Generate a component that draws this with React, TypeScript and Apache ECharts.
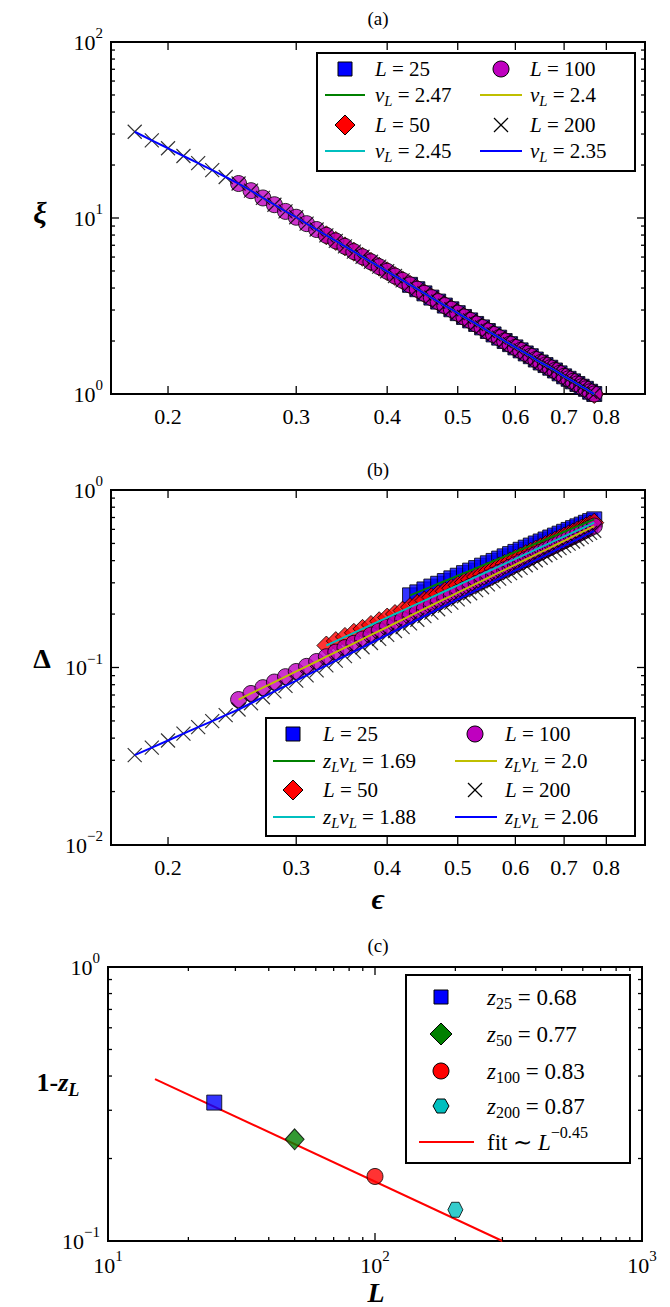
import React, { useEffect, useRef } from 'react';
import * as echarts from 'echarts';

const FONT = 'Liberation Serif';

// panel (a)/(b) grid of epsilon
const EPS = [0.18, 0.19, 0.2, 0.21, 0.22, 0.23, 0.24, 0.25, 0.26, 0.27, 0.28, 0.29, 0.3, 0.31, 0.32, 0.33, 0.34, 0.35, 0.36, 0.37, 0.38, 0.39, 0.4, 0.41, 0.42, 0.43, 0.44, 0.45, 0.46, 0.47, 0.48, 0.49, 0.5, 0.51, 0.52, 0.53, 0.54, 0.55, 0.56, 0.57, 0.58, 0.59, 0.6, 0.61, 0.62, 0.63, 0.64, 0.65, 0.66, 0.67, 0.68, 0.69, 0.7, 0.71, 0.72, 0.73, 0.74, 0.75, 0.76, 0.77];

// (a) correlation length xi
const XI = [30.9, 27.6, 24.9, 22.5, 20.5, 18.7, 17.1, 15.7, 14.3, 13.0, 11.9, 10.9, 10.1, 9.29, 8.6, 7.97, 7.41, 6.9, 6.44, 6.02, 5.64, 5.29, 4.98, 4.68, 4.42, 4.17, 3.94, 3.73, 3.53, 3.35, 3.18, 3.03, 2.88, 2.74, 2.62, 2.5, 2.39, 2.28, 2.18, 2.09, 2.0, 1.92, 1.84, 1.77, 1.7, 1.64, 1.57, 1.51, 1.46, 1.41, 1.36, 1.31, 1.26, 1.22, 1.18, 1.14, 1.1, 1.07, 1.03, 1.0];

// (b) gap Delta, each series starts at its own epsilon index
const DELTA_200 = [0.0321, 0.0354, 0.0388, 0.0424, 0.0461, 0.0499, 0.0539, 0.058, 0.0629, 0.068, 0.0733, 0.0788, 0.0844, 0.0903, 0.0964, 0.1027, 0.1093, 0.1159, 0.1229, 0.13, 0.1374, 0.1449, 0.1528, 0.1606, 0.1688, 0.1773, 0.1858, 0.1946, 0.2036, 0.213, 0.2224, 0.232, 0.2418, 0.2519, 0.2621, 0.2726, 0.2833, 0.2942, 0.3054, 0.3167, 0.3282, 0.34, 0.3521, 0.3642, 0.3767, 0.3893, 0.4022, 0.4154, 0.4287, 0.4422, 0.4561, 0.4701, 0.4843, 0.4988, 0.5129, 0.5278, 0.543, 0.5584, 0.5734, 0.5891];
const DELTA_100 = [0.066, 0.0714, 0.077, 0.0828, 0.0888, 0.095, 0.1015, 0.1081, 0.115, 0.1221, 0.1294, 0.1369, 0.1446, 0.1525, 0.1606, 0.169, 0.1775, 0.1863, 0.1953, 0.2044, 0.2138, 0.2235, 0.2333, 0.2433, 0.2535, 0.264, 0.2747, 0.2855, 0.2966, 0.3079, 0.3194, 0.3312, 0.3431, 0.3552, 0.3676, 0.3802, 0.3929, 0.4059, 0.4191, 0.4325, 0.4462, 0.46, 0.474, 0.4883, 0.5028, 0.5174, 0.5323, 0.5474, 0.5627, 0.5783, 0.594, 0.61, 0.626];
const DELTA_50 = [0.133, 0.1408, 0.1487, 0.1568, 0.1651, 0.1736, 0.1823, 0.1911, 0.2001, 0.2093, 0.2188, 0.2285, 0.2383, 0.2484, 0.2586, 0.269, 0.2796, 0.2904, 0.3014, 0.3126, 0.324, 0.3356, 0.3474, 0.3593, 0.3715, 0.3838, 0.3965, 0.4093, 0.4221, 0.4353, 0.4486, 0.4622, 0.4758, 0.4896, 0.5038, 0.518, 0.5323, 0.547, 0.5619, 0.5766, 0.5918, 0.6071, 0.6228, 0.6384, 0.6544];
const DELTA_25 = [0.255, 0.2651, 0.2753, 0.2857, 0.2963, 0.307, 0.3179, 0.329, 0.3402, 0.3515, 0.3631, 0.3747, 0.3866, 0.3985, 0.4107, 0.4229, 0.4354, 0.4479, 0.4605, 0.4734, 0.4864, 0.4997, 0.5129, 0.5262, 0.54, 0.5536, 0.5675, 0.5815, 0.5958, 0.6098, 0.6243, 0.6383, 0.6536, 0.6682, 0.6834];

const START = { 25: 25, 50: 15, 100: 7, 200: 0 };

// (c)
const SIZES = [25, 50, 100, 200];
const ONE_MINUS_Z = [0.32, 0.235, 0.172, 0.13];
const Z_LABELS = ['0.68', '0.77', '0.83', '0.87'];
const FIT_L = [15, 300];
const FIT_Y = [0.39, 0.1];

const NU_LABELS = ['2.47', '2.45', '2.4', '2.35'];
const ZNU_LABELS = ['1.69', '1.88', '2.0', '2.06'];
const EPS_TICKS = [0.2, 0.3, 0.4, 0.5, 0.6, 0.7, 0.8];

const lg = Math.log10;
let ctx: CanvasRenderingContext2D | null = null;
const measure = (t: string, font: string) => {
  if (!ctx) ctx = document.createElement('canvas').getContext('2d');
  ctx!.font = font;
  return ctx!.measureText(t).width;
};

type Part = { t: string; s?: string };
// s: r roman, i italic, b bold, bi bold italic, sub / isub / bisub, sup
function mathText(x: number, y: number, parts: Part[], size: number, align: 'left' | 'center' = 'left') {
  const items = parts.map((p) => {
    const s = p.s || 'r';
    const sub = s.includes('sub');
    const sup = s === 'sup';
    const fs = sub || sup ? size * 0.7 : size;
    const italic = s === 'i' || s === 'bi' || s === 'isub' || s === 'bisub';
    const bold = s === 'b' || s === 'bi' || s === 'bisub';
    const font = `${italic ? 'italic ' : ''}${bold ? 'bold ' : ''}${fs}px "${FONT}"`;
    return { t: p.t, fs, italic, bold, dy: sub ? size * 0.3 : sup ? -size * 0.42 : 0, w: measure(p.t, font) };
  });
  const total = items.reduce((a, b) => a + b.w, 0);
  let cx = align === 'center' ? x - total / 2 : x;
  return items.map((it) => {
    const el = {
      type: 'text', x: cx, y: y + it.dy, silent: true,
      style: {
        text: it.t, fill: '#000', fontSize: it.fs, fontFamily: FONT,
        fontStyle: it.italic ? 'italic' : 'normal', fontWeight: it.bold ? 'bold' : 'normal',
        verticalAlign: 'middle', align: 'left',
      },
    };
    cx += it.w;
    return el;
  });
}

const X_PATH = 'path://M0,0L10,10M10,0L0,10';
const HEX_PATH = 'path://M2.5,0L7.5,0L10,5L7.5,10L2.5,10L0,5Z';

type Tick = { v: number; axis: 'x' | 'y'; major: boolean; label?: string; exp?: string };

function decadeTicks(axis: 'x' | 'y', from: number, to: number): Tick[] {
  const out: Tick[] = [];
  for (let d = from; d <= to; d++) {
    out.push({ v: d, axis, major: true, exp: d < 0 ? '\u2212' + -d : String(d) });
    if (d < to) for (let k = 2; k <= 9; k++) out.push({ v: d + lg(k), axis, major: false });
  }
  return out;
}

function tickSeries(idx: number, ticks: Tick[], xmin: number, ymin: number) {
  const base = `22px "${FONT}"`;
  const expF = `15px "${FONT}"`;
  return {
    type: 'custom', xAxisIndex: idx, yAxisIndex: idx, clip: false, silent: true, z: 10,
    data: ticks.map((t) => [t.axis === 'x' ? t.v : xmin, t.axis === 'y' ? t.v : ymin]),
    renderItem: (params: any, api: any) => {
      const t = ticks[params.dataIndex];
      const cs = params.coordSys;
      const p = api.coord([api.value(0), api.value(1)]);
      const len = t.major ? 8 : 4;
      const ls = { stroke: '#000', lineWidth: 1.3 };
      const ch: any[] = [];
      if (t.axis === 'x') {
        const b = cs.y + cs.height;
        ch.push({ type: 'line', shape: { x1: p[0], y1: b, x2: p[0], y2: b - len }, style: ls });
        ch.push({ type: 'line', shape: { x1: p[0], y1: cs.y, x2: p[0], y2: cs.y + len }, style: ls });
        if (t.label) ch.push({ type: 'text', x: p[0], y: b + 22, style: { text: t.label, fontSize: 22, fontFamily: FONT, fill: '#000', align: 'center', verticalAlign: 'middle' } });
        if (t.exp) {
          const bw = measure('10', base);
          const ew = measure(t.exp, expF);
          const x0 = p[0] - (bw + ew) / 2;
          ch.push({ type: 'text', x: x0, y: b + 24, style: { text: '10', fontSize: 22, fontFamily: FONT, fill: '#000', align: 'left', verticalAlign: 'middle' } });
          ch.push({ type: 'text', x: x0 + bw, y: b + 15, style: { text: t.exp, fontSize: 15, fontFamily: FONT, fill: '#000', align: 'left', verticalAlign: 'middle' } });
        }
      } else {
        const r = cs.x + cs.width;
        ch.push({ type: 'line', shape: { x1: cs.x, y1: p[1], x2: cs.x + len, y2: p[1] }, style: ls });
        ch.push({ type: 'line', shape: { x1: r, y1: p[1], x2: r - len, y2: p[1] }, style: ls });
        if (t.exp) {
          const ew = measure(t.exp, expF);
          const xr = cs.x - 8;
          ch.push({ type: 'text', x: xr, y: p[1] - 9, style: { text: t.exp, fontSize: 15, fontFamily: FONT, fill: '#000', align: 'right', verticalAlign: 'middle' } });
          ch.push({ type: 'text', x: xr - ew, y: p[1], style: { text: '10', fontSize: 22, fontFamily: FONT, fill: '#000', align: 'right', verticalAlign: 'middle' } });
        }
      }
      return { type: 'group', children: ch };
    },
  };
}

const pts = (xs: number[], ys: number[]) => ys.map((y, i) => [lg(xs[i]), lg(y)]);

function panelSeries(idx: number, ys: Record<number, number[]>, fitColors: string[]) {
  const mk = (L: number) => pts(EPS.slice(START[L as 25]), ys[L]);
  const sc = (L: number, symbol: string, size: number, color: string, extra: any = {}) => ({
    type: 'scatter', xAxisIndex: idx, yAxisIndex: idx, data: mk(L), symbol, symbolSize: size,
    itemStyle: { color, borderColor: '#000', borderWidth: 1, ...extra }, z: 3,
  });
  const ln = (L: number, color: string) => ({
    type: 'line', xAxisIndex: idx, yAxisIndex: idx, data: mk(L), showSymbol: false,
    lineStyle: { color, width: 2 }, z: 4,
  });
  return [
    sc(25, 'rect', 15, '#0000ff'),
    sc(50, 'diamond', 19, '#ff0000'),
    sc(100, 'circle', 16, '#bf00bf'),
    sc(200, X_PATH, 14, 'none', { borderColor: '#000', borderWidth: 1.2 }),
    ln(25, fitColors[0]),
    ln(50, fitColors[1]),
    ln(100, fitColors[2]),
    ln(200, fitColors[3]),
  ];
}

const FIT_COLORS = ['#008000', '#00bfbf', '#bfbf00', '#0000ff'];

function legendAB(box: number[], rows: number[], cols: number[][], sub: 'nu' | 'znu') {
  const [x0, y0, x1, y1] = box;
  const els: any[] = [{ type: 'rect', shape: { x: x0, y: y0, width: x1 - x0, height: y1 - y0 }, style: { fill: '#fff', stroke: '#000', lineWidth: 2 }, z: 20 }];
  const labels = sub === 'nu' ? NU_LABELS : ZNU_LABELS;
  const order = [[25, 50], [100, 200]];
  const fitIdx: Record<number, number> = { 25: 0, 50: 1, 100: 2, 200: 3 };
  order.forEach((pair, c) => {
    const [mx, lx0, lx1, tx] = cols[c];
    pair.forEach((L, k) => {
      const ym = rows[k * 2];
      const yl = rows[k * 2 + 1];
      if (L === 25) els.push({ type: 'rect', shape: { x: mx - 7, y: ym - 7, width: 14, height: 14 }, style: { fill: '#0000ff', stroke: '#000', lineWidth: 1 }, z: 21 });
      if (L === 50) els.push({ type: 'polygon', shape: { points: [[mx, ym - 10], [mx + 10, ym], [mx, ym + 10], [mx - 10, ym]] }, style: { fill: '#ff0000', stroke: '#000', lineWidth: 1 }, z: 21 });
      if (L === 100) els.push({ type: 'circle', shape: { cx: mx, cy: ym, r: 8 }, style: { fill: '#bf00bf', stroke: '#000', lineWidth: 1 }, z: 21 });
      if (L === 200) {
        els.push({ type: 'line', shape: { x1: mx - 7, y1: ym - 7, x2: mx + 7, y2: ym + 7 }, style: { stroke: '#000', lineWidth: 1.2 }, z: 21 });
        els.push({ type: 'line', shape: { x1: mx + 7, y1: ym - 7, x2: mx - 7, y2: ym + 7 }, style: { stroke: '#000', lineWidth: 1.2 }, z: 21 });
      }
      els.push(...mathText(tx, ym, [{ t: 'L', s: 'i' }, { t: ' = ' + L }], 21).map((e) => ({ ...e, z: 21 })));
      els.push({ type: 'line', shape: { x1: lx0, y1: yl, x2: lx1, y2: yl }, style: { stroke: FIT_COLORS[fitIdx[L]], lineWidth: 2 }, z: 21 });
      const parts: Part[] = sub === 'nu'
        ? [{ t: 'ν', s: 'i' }, { t: 'L', s: 'isub' }, { t: ' = ' + labels[fitIdx[L]] }]
        : [{ t: 'z', s: 'i' }, { t: 'L', s: 'isub' }, { t: 'ν', s: 'i' }, { t: 'L', s: 'isub' }, { t: ' = ' + labels[fitIdx[L]] }];
      els.push(...mathText(tx, yl, parts, 21).map((e) => ({ ...e, z: 21 })));
    });
  });
  return els;
}

function legendC() {
  const els: any[] = [{ type: 'rect', shape: { x: 406, y: 975, width: 224, height: 188 }, style: { fill: '#fff', stroke: '#000', lineWidth: 2 }, z: 20 }];
  const rows = [997, 1034, 1071, 1106];
  const mx = 441;
  els.push({ type: 'rect', shape: { x: mx - 7, y: rows[0] - 7, width: 14, height: 14 }, style: { fill: '#0000ff', stroke: '#000', lineWidth: 1 }, z: 21 });
  els.push({ type: 'polygon', shape: { points: [[mx, rows[1] - 11], [mx + 11, rows[1]], [mx, rows[1] + 11], [mx - 11, rows[1]]] }, style: { fill: '#008000', stroke: '#000', lineWidth: 1 }, z: 21 });
  els.push({ type: 'circle', shape: { cx: mx, cy: rows[2], r: 8 }, style: { fill: '#ff0000', stroke: '#000', lineWidth: 1 }, z: 21 });
  els.push({ type: 'polygon', shape: { points: [[mx - 4, rows[3] - 7], [mx + 4, rows[3] - 7], [mx + 8, rows[3]], [mx + 4, rows[3] + 7], [mx - 4, rows[3] + 7], [mx - 8, rows[3]]] }, style: { fill: '#00bfbf', stroke: '#000', lineWidth: 1 }, z: 21 });
  SIZES.forEach((L, i) => {
    els.push(...mathText(487, rows[i], [{ t: 'z', s: 'i' }, { t: String(L), s: 'sub' }, { t: ' = ' + Z_LABELS[i] }], 23).map((e) => ({ ...e, z: 21 })));
  });
  els.push({ type: 'line', shape: { x1: 419, y1: 1142, x2: 474, y2: 1142 }, style: { stroke: '#ff0000', lineWidth: 2 }, z: 21 });
  els.push(...mathText(487, 1142, [{ t: 'fit ∼ ' }, { t: 'L', s: 'i' }, { t: '−0.45', s: 'sup' }], 23).map((e) => ({ ...e, z: 21 })));
  return els;
}

export default function App() {
  const ref = useRef<HTMLDivElement | null>(null);

  useEffect(() => {
    document.body.style.margin = '0';
    if (!ref.current) return;
    const chart = echarts.init(ref.current, undefined, { renderer: 'svg' });

    const exMin = -0.7773, exMax = -0.0438;
    const epsTicks: Tick[] = EPS_TICKS.map((v) => ({ v: lg(v), axis: 'x' as const, major: true, label: String(v) }));

    const grids = [
      { left: 111, top: 42, width: 534, height: 352 },
      { left: 111, top: 490, width: 534, height: 355 },
      { left: 108, top: 967, width: 534, height: 274 },
    ].map((g) => ({ ...g, show: true, borderColor: '#000', borderWidth: 2, backgroundColor: '#fff' }));

    const ax = (min: number, max: number, i: number) => ({
      type: 'value', gridIndex: i, min, max, show: false, splitLine: { show: false },
    });

    const fitC = pts(FIT_L, FIT_Y);
    const cPts = pts(SIZES, ONE_MINUS_Z);

    chart.setOption({
      animation: false,
      backgroundColor: '#fff',
      grid: grids,
      xAxis: [ax(exMin, exMax, 0), ax(exMin, exMax, 1), ax(1, 3, 2)],
      yAxis: [ax(0, 2, 0), ax(-2, 0, 1), ax(-1, 0, 2)],
      series: [
        ...panelSeries(0, { 25: XI.slice(25), 50: XI.slice(15), 100: XI.slice(7), 200: XI }, FIT_COLORS),
        ...panelSeries(1, { 25: DELTA_25, 50: DELTA_50, 100: DELTA_100, 200: DELTA_200 }, FIT_COLORS),
        { type: 'line', xAxisIndex: 2, yAxisIndex: 2, data: fitC, showSymbol: false, lineStyle: { color: '#ff0000', width: 2 }, z: 3 },
        { type: 'scatter', xAxisIndex: 2, yAxisIndex: 2, data: [cPts[0]], symbol: 'rect', symbolSize: 15, itemStyle: { color: '#0000ff', borderColor: '#000', borderWidth: 1 }, z: 4 },
        { type: 'scatter', xAxisIndex: 2, yAxisIndex: 2, data: [cPts[1]], symbol: 'diamond', symbolSize: [19, 21], itemStyle: { color: '#008000', borderColor: '#000', borderWidth: 1 }, z: 4 },
        { type: 'scatter', xAxisIndex: 2, yAxisIndex: 2, data: [cPts[2]], symbol: 'circle', symbolSize: 16, itemStyle: { color: '#ff0000', borderColor: '#000', borderWidth: 1 }, z: 4 },
        { type: 'scatter', xAxisIndex: 2, yAxisIndex: 2, data: [cPts[3]], symbol: HEX_PATH, symbolSize: 15, itemStyle: { color: '#00bfbf', borderColor: '#000', borderWidth: 1 }, z: 4 },
        tickSeries(0, [...epsTicks, ...decadeTicks('y', 0, 2)], exMin, 0),
        tickSeries(1, [...epsTicks, ...decadeTicks('y', -2, 0)], exMin, -2),
        tickSeries(2, [...decadeTicks('x', 1, 3), ...decadeTicks('y', -1, 0)], 1, -1),
      ],
      graphic: [
        ...mathText(378, 18, [{ t: '(a)' }], 19, 'center'),
        ...mathText(378, 469, [{ t: '(b)' }], 19, 'center'),
        ...mathText(378, 945, [{ t: '(c)' }], 19, 'center'),
        ...mathText(40, 212, [{ t: 'ξ', s: 'bi' }], 30, 'center'),
        ...mathText(42, 658, [{ t: 'Δ', s: 'b' }], 28, 'center'),
        ...mathText(58, 1082, [{ t: '1-', s: 'b' }, { t: 'z', s: 'bi' }, { t: 'L', s: 'bisub' }], 26, 'center'),
        ...mathText(378, 898, [{ t: 'ϵ', s: 'bi' }], 30, 'center'),
        ...mathText(376, 1292, [{ t: 'L', s: 'bi' }], 28, 'center'),
        ...legendAB([317, 53, 635, 171], [69, 95, 125, 151], [[345, 325, 365, 375], [501, 480, 522, 530]], 'nu'),
        ...legendAB([266, 718, 635, 836], [734, 761, 790, 817], [[293, 273, 315, 323], [475, 455, 497, 505]], 'znu'),
        ...legendC(),
      ],
    });
    return () => chart.dispose();
  }, []);

  return <div ref={ref} style={{ width: 670, height: 1307 }} />;
}
